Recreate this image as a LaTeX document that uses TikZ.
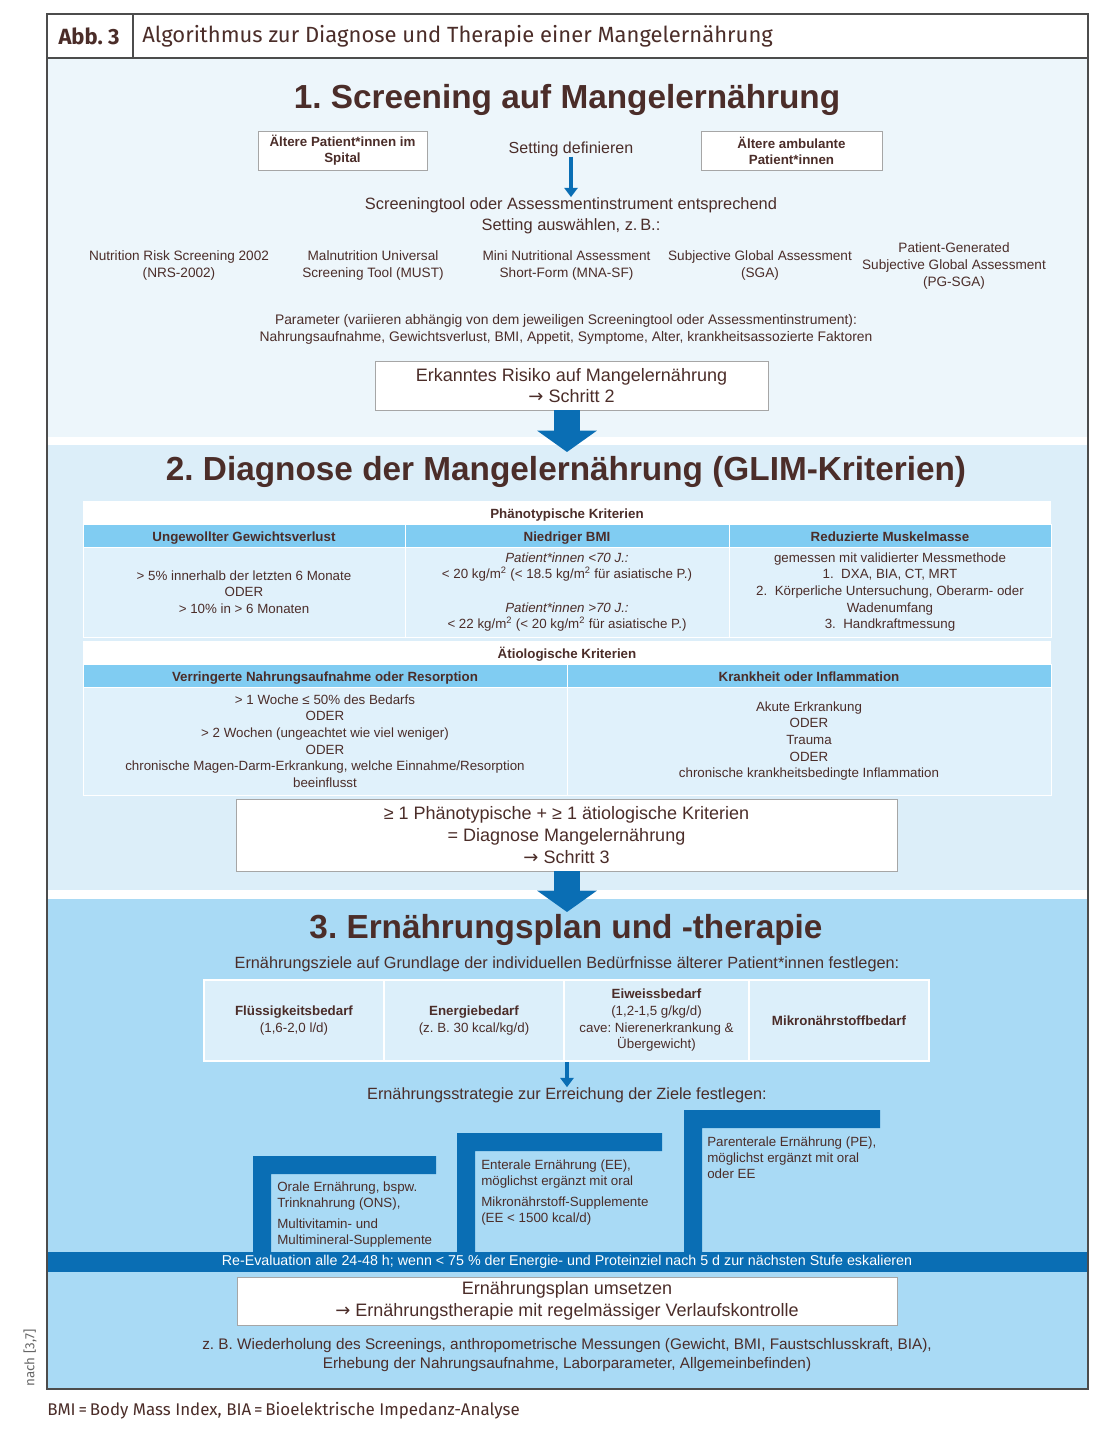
\documentclass[tikz,border=0pt]{standalone}
\usepackage{fontspec}
\setmainfont{Liberation Sans}
\newfontfamily\headfont{Fira Sans}
\newfontfamily\symfont{DejaVu Sans}
\newcommand\ra{{\symfont →}}
\frenchspacing
\usetikzlibrary{arrows.meta,positioning,calc}
\definecolor{brn}{HTML}{4B2D29}
\definecolor{secA}{HTML}{EDF6FB}
\definecolor{secB}{HTML}{DCEEF9}
\definecolor{secC}{HTML}{A9DAF5}
\definecolor{dkblue}{HTML}{0A6EB4}
\definecolor{colhd}{HTML}{80CCF2}
\definecolor{cellbg}{HTML}{E0F1FB}
\definecolor{goalbg}{HTML}{DCEFFA}
\tikzset{
  wh/.style 2 args={minimum width=#1*0.75pt,minimum height=#2*0.75pt},
  lbl/.style   ={text=brn,align=center,inner sep=0pt,font=\fontsize{10}{12.5}\selectfont},
  lblb/.style  ={lbl,font=\fontsize{10}{12.5}\selectfont\bfseries,text height=9.6pt,text depth=1pt},
  mid/.style   ={lbl,font=\fontsize{12.2}{14.25}\selectfont},
  ttl/.style   ={text=brn,inner sep=0pt,font=\fontsize{25}{30}\selectfont\bfseries},
  wbox/.style  ={draw=gray!70,fill=white,line width=0.6pt,align=center,text=brn,inner sep=0pt,
                 font=\fontsize{13.5}{16.5}\selectfont},
  hcell/.style ={lblb,fill=colhd,draw=white,line width=0.5pt},
  bcell/.style ={lbl,fill=cellbg,draw=white,line width=0.5pt},
  gcell/.style ={lbl,fill=goalbg,draw=white,line width=1.5pt},
  stp/.style   ={lbl,align=left,anchor=north west,font=\fontsize{10}{12}\selectfont},
  arr/.style   ={-{Triangle[length=7pt,width=10pt]},line width=3pt,dkblue},
  bigarr/.style={-{Triangle[length=16pt,width=44pt]},line width=20pt,dkblue},
}
\begin{document}
\begin{tikzpicture}[x=0.75pt,y=-0.75pt]
  \fill[white] (0,0) rectangle (1100,1435);
  \useasboundingbox (0,0) rectangle (1100,1435);
  % section backgrounds
  \fill[secA] (47,58) rectangle (1088,437);
  \fill[secB] (47,445) rectangle (1088,890);
  \fill[secC] (47,899) rectangle (1088,1389);

  % header
  \node[text=brn,font=\headfont\fontsize{16.5}{18}\selectfont\bfseries,inner sep=0pt] (abb) at (89,36) {Abb. 3};
  \node[anchor=west,text=brn,font=\headfont\fontsize{16.5}{18}\selectfont,inner sep=0pt] (head) at (142,36)
        {Algorithmus zur Diagnose und Therapie einer Mangelernährung};

  % 1. screening
  \node[ttl] (t1) at (567,100) {1. Screening auf Mangelernährung};
  \node[wbox,wh={169}{39},font=\fontsize{10}{12}\selectfont\bfseries] (spital) at (342.5,150.5)
        {Ältere Patient*innen im\\Spital};
  \node[lbl,font=\fontsize{12}{14}\selectfont] (setting) at (571,149) {Setting definieren};
  \node[wbox,wh={181}{39},font=\fontsize{10}{12}\selectfont\bfseries] (ambul) at (791.5,150.5)
        {Ältere ambulante\\Patient*innen};
  \node[lbl,font=\fontsize{12.3}{15.75}\selectfont] (tool) at (571,215.5)
        {Screeningtool oder Assessmentinstrument entsprechend\\Setting auswählen, z.\,B.:};
  \foreach \x/\t [count=\i] in {179/{Nutrition Risk Screening 2002\\(NRS-2002)},
                               373/{Malnutrition Universal\\Screening Tool (MUST)},
                               566.5/{Mini Nutritional Assessment\\Short-Form (MNA-SF)},
                               760/{Subjective Global Assessment\\(SGA)},
                               954/{Patient-Generated\\Subjective Global Assessment\\(PG-SGA)}}{
    \node[lbl,font=\fontsize{10.2}{12.75}\selectfont] (tool\i) at (\x,265.5) {\t};
  }
  \node[lbl,font=\fontsize{10.4}{12.75}\selectfont] (param) at (566,329.5)
        {Parameter (variieren abhängig von dem jeweiligen Screeningtool oder Assessmentinstrument):\\
         Nahrungsaufnahme, Gewichtsverlust, BMI, Appetit, Symptome, Alter, krankheitsassozierte Faktoren};
  \node[wbox,wh={393}{49},font=\fontsize{13.5}{15.75}\selectfont] (risk) at (571.5,385.5)
        {Erkanntes Risiko auf Mangelernährung\\\ra\ Schritt 2};

  % 2. diagnose (GLIM)
  \node[ttl] (t2) at (566,472) {2. Diagnose der Mangelernährung (GLIM-Kriterien)};
  \node[lblb,fill=white,wh={968}{23}] (phaen) at (567,512.5) {Phänotypische Kriterien};
  \node[hcell,wh={322}{23}] (gew)    at (244,535.5) {Ungewollter Gewichtsverlust};
  \node[hcell,wh={324}{23}] (bmi)    at (567,535.5) {Niedriger BMI};
  \node[hcell,wh={322}{23}] (muskel) at (890,535.5) {Reduzierte Muskelmasse};
  \node[bcell,wh={322}{90}] (gewtxt) at (244,592)
        {> 5\% innerhalb der letzten 6 Monate\\ODER\\> 10\% in > 6 Monaten};
  \node[bcell,wh={324}{90}] (bmitxt) at (567,592)
        {\textit{Patient*innen <70 J.:}\\< 20 kg/m\textsuperscript{2} (< 18.5 kg/m\textsuperscript{2} für asiatische P.)\\[12.5pt]
         \textit{Patient*innen >70 J.:}\\< 22 kg/m\textsuperscript{2} (< 20 kg/m\textsuperscript{2} für asiatische P.)};
  \node[bcell,wh={322}{90}] (muskeltxt) at (890,592)
        {gemessen mit validierter Messmethode\\1.\ \ DXA, BIA, CT, MRT\\2.\ \ Körperliche Untersuchung, Oberarm- oder\\
         Wadenumfang\\3.\ \ Handkraftmessung};
  \node[lblb,fill=white,wh={968}{23}] (aetio) at (567,652.5) {Ätiologische Kriterien};
  \node[hcell,wh={484}{23}] (nahr)  at (325,675.5) {Verringerte Nahrungsaufnahme oder Resorption};
  \node[hcell,wh={484}{23}] (krank) at (809,675.5) {Krankheit oder Inflammation};
  \node[bcell,wh={484}{108}] (nahrtxt) at (325,741)
        {> 1 Woche ≤ 50\% des Bedarfs\\ODER\\> 2 Wochen (ungeachtet wie viel weniger)\\ODER\\
         chronische Magen-Darm-Erkrankung, welche Einnahme/Resorption\\beeinflusst};
  \node[bcell,wh={484}{108}] (kranktxt) at (809,741)
        {Akute Erkrankung\\ODER\\Trauma\\ODER\\chronische krankheitsbedingte Inflammation};
  \node[wbox,wh={661}{72}] (diag) at (566.5,835)
        {≥ 1 Phänotypische + ≥ 1 ätiologische Kriterien\\= Diagnose Mangelernährung\\\ra\ Schritt 3};

  % 3. plan und therapie
  \node[ttl] (t3) at (566,930) {3. Ernährungsplan und -therapie};
  \node[mid] (ziele) at (567,964)
        {Ernährungsziele auf Grundlage der individuellen Bedürfnisse älterer Patient*innen festlegen:};
  \node[gcell,wh={180}{81}] (fluid)  at (294,1020.5) {\textbf{Flüssigkeitsbedarf}\\(1,6-2,0 l/d)};
  \node[gcell,wh={180}{81}] (energ)  at (474,1020.5) {\textbf{Energiebedarf}\\(z. B. 30 kcal/kg/d)};
  \node[gcell,wh={185}{81}] (eiweiss) at (656.5,1020.5)
        {\textbf{Eiweissbedarf}\\(1,2-1,5 g/kg/d)\\cave: Nierenerkrankung \&\\Übergewicht)};
  \node[gcell,wh={180}{81}] (mikro)  at (839,1020.5) {\textbf{Mikronährstoffbedarf}};
  \node[mid] (strat) at (567,1095) {Ernährungsstrategie zur Erreichung der Ziele festlegen:};
  % steps
  \foreach \x/\y/\r in {253/1156/436, 457/1133/662, 684/1110/880}{
    \fill[dkblue] (\x,\y) -- (\r,\y) -- (\r,\y+18) -- (\x+18,\y+18) -- (\x+18,1252) -- (\x,1252) -- cycle;
  }
  \node[stp] (oral) at (277,1182)
        {Orale Ernährung, bspw.\\Trinknahrung (ONS),\\[3.75pt]Multivitamin- und\\Multimineral-Supplemente};
  \node[stp] (enteral) at (481,1160)
        {Enterale Ernährung (EE),\\möglichst ergänzt mit oral\\[3.75pt]Mikronährstoff-Supplemente\\(EE < 1500 kcal/d)};
  \node[stp] (parent) at (707,1137)
        {Parenterale Ernährung (PE),\\möglichst ergänzt mit oral\\oder EE};
  \fill[dkblue] (47,1252) rectangle (1088,1272);
  \node[lbl,text=white,font=\fontsize{10.7}{12}\selectfont] (reeval) at (567,1262)
        {Re-Evaluation alle 24-48 h; wenn < 75 \% der Energie- und Proteinziel nach 5 d zur nächsten Stufe eskalieren};
  \node[wbox,wh={660}{48}] (plan) at (567,1301)
        {Ernährungsplan umsetzen\\\ra\ Ernährungstherapie mit regelmässiger Verlaufskontrolle};
  \node[lbl,font=\fontsize{11.5}{14.25}\selectfont] (kontr) at (567,1355.5)
        {z. B. Wiederholung des Screenings, anthropometrische Messungen (Gewicht, BMI, Faustschlusskraft, BIA),\\
         Erhebung der Nahrungsaufnahme, Laborparameter, Allgemeinbefinden)};

  % arrows
  \draw[arr] (setting) -- (tool);
  \coordinate (tipA) at (567,452);
  \coordinate (tipB) at (567,912);
  \draw[bigarr] (risk.south -| tipA) -- (tipA);
  \draw[bigarr] (diag.south -| tipB) -- (tipB);
  \draw[arr] (strat.north |- energ.south) -- (strat.north);

  % frame and notes
  \draw[gray!60!black,line width=1pt] (47,14) rectangle (1088,1389);
  \draw[gray!60!black,line width=1pt] (47,58) -- (1088,58) (133,14) -- (133,58);
  \node[rotate=90,text=gray!80!black,font=\headfont\fontsize{10}{12}\selectfont,inner sep=0pt] (quelle) at (30,1358) {nach [3,7]};
  \node[anchor=west,text=brn,font=\headfont\fontsize{12.7}{14}\selectfont,inner sep=0pt] (abk) at (47,1411)
        {BMI\,=\,Body Mass Index, BIA\,=\,Bioelektrische Impedanz-Analyse};
\end{tikzpicture}
\end{document}
